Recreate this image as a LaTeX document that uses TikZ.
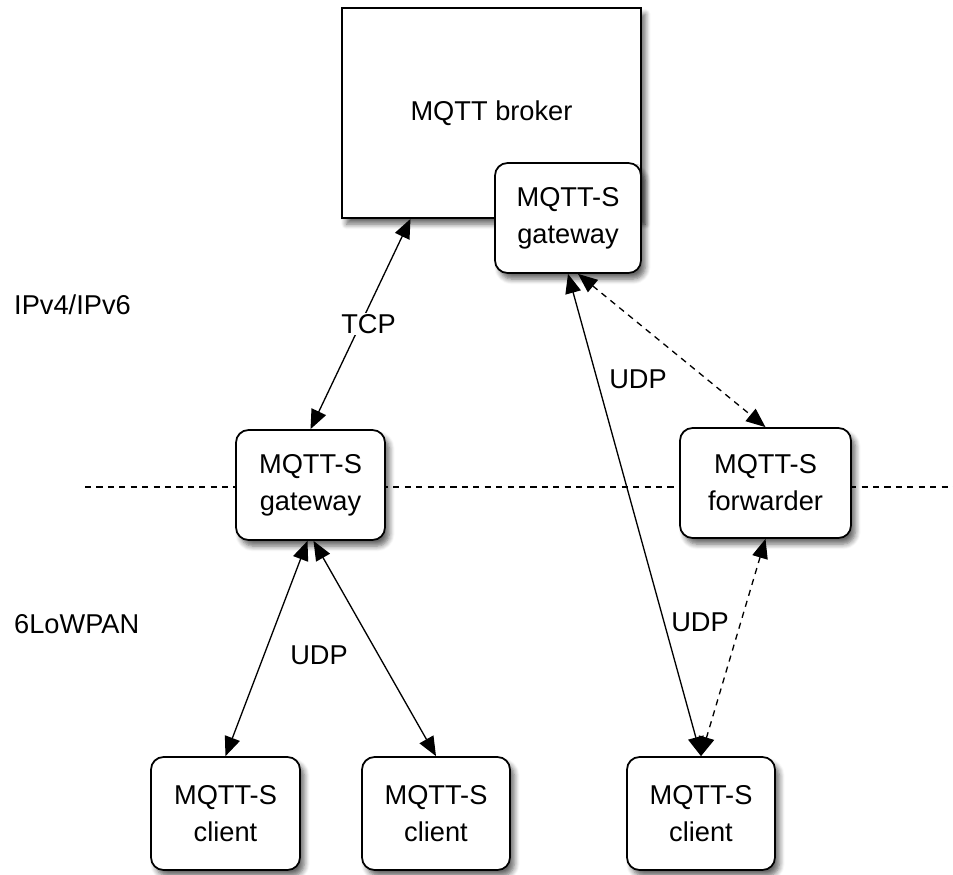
\documentclass[tikz,border=0pt]{standalone}
\usepackage{fontspec}
\setmainfont{Liberation Sans}
\usetikzlibrary{calc}
\usetikzlibrary{arrows.meta}
\usetikzlibrary{shadows.blur}

\begin{document}
\begin{tikzpicture}[x=0.02cm,y=-0.02cm,
  font=\fontsize{15.5}{21}\selectfont,
  box/.style={draw,fill=white,line width=1pt,align=center,
    blur shadow={shadow xshift=2.5pt,shadow yshift=-3.5pt,shadow blur steps=6,shadow blur radius=3pt,shadow opacity=60}},
  sbox/.style={box,rounded corners=0.25cm,minimum height=2.2cm},
  link/.style={line width=0.75pt,{Triangle[length=11pt,width=9pt]}-{Triangle[length=11pt,width=9pt]}},
  dlink/.style={link,dash pattern=on 3.5pt off 3pt}]
\useasboundingbox (0,0) rectangle (953,875);

% border between the two networks
\coordinate (L) at (85,487);
\coordinate (R) at (953,487);
\draw[dash pattern=on 3.5pt off 3pt,line width=0.6pt] (L) -- (R);

\node[box,minimum width=5.98cm,minimum height=4.2cm] (broker) at (491.5,113) {MQTT broker};
\node[sbox,minimum width=2.92cm] (bgw) at (568,218) {MQTT-S\\gateway};
\node[sbox,minimum width=2.98cm] (lgw) at (310.5,485) {MQTT-S\\gateway};
\node[sbox,minimum width=3.42cm] (fwd) at (765.5,483) {MQTT-S\\forwarder};
\node[sbox,minimum width=2.98cm,minimum height=2.26cm] (c1) at (225.5,813.5) {MQTT-S\\client};
\node[sbox,minimum width=2.96cm,minimum height=2.26cm] (c2) at (436,813.5) {MQTT-S\\client};
\node[sbox,minimum width=2.96cm,minimum height=2.26cm] (c3) at (701,813.5) {MQTT-S\\client};

\node[anchor=west] (ip) at (8,305) {IPv4/IPv6};
\node[anchor=west] (lowpan) at (8,624) {6LoWPAN};

\draw[link] ($(broker.south)+(-81,0)$) -- node[fill=white,inner sep=1pt,xshift=0.16cm] (tcp) {TCP} (lgw.north);
\draw[link] (bgw.south) -- (c3.north);
\draw[dlink] ($(bgw.south)+(10,0)$) -- (fwd.north);
\draw[link] ($(lgw.south)+(-3,0)$) -- (c1.north);
\draw[link] ($(lgw.south)+(3,0)$) -- (c2.north);
\draw[dlink] (fwd.south) -- (c3.north);

\node (udpa) at (319,655) {UDP};
\node (udpb) at (638,379) {UDP};
\node (udpc) at (700,622) {UDP};
\end{tikzpicture}
\end{document}
